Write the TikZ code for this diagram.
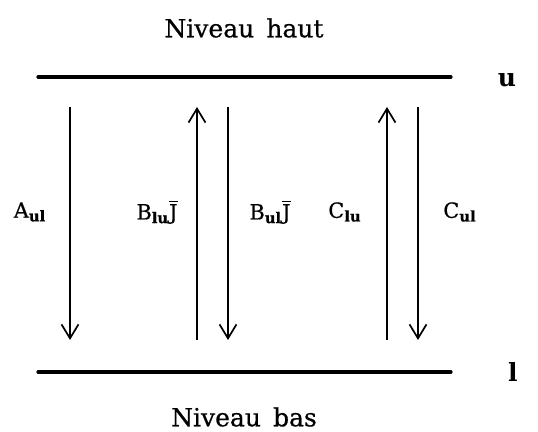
\documentclass[tikz,border=0pt]{standalone}
\usepackage{fontspec}
\setmainfont{DejaVu Serif}
\newfontfamily\heavyserif[FakeBold=0.6]{DejaVu Serif}
\usetikzlibrary{arrows.meta}
\begin{document}
\begin{tikzpicture}[x=0.5pt,y=-0.5pt,
    level/.style={line width=1.6pt, line cap=round},
    trans/.style={line width=0.85pt, -{Straight Barb[length=7pt,width=8.5pt]}},
    lbl/.style={font=\fontsize{10.5}{12}\selectfont\heavyserif},
    title/.style={font=\fontsize{12.5}{14}\selectfont\heavyserif}]
    \useasboundingbox (0,0) rectangle (538,432);

    % niveaux u et l
    \coordinate (uL) at (38,77);
    \coordinate (uR) at (451,77);
    \coordinate (lL) at (38,372);
    \coordinate (lR) at (451,372);
    \draw[level] (uL) -- (uR);
    \draw[level] (lL) -- (lR);
    \node[font=\fontsize{12.5}{14}\selectfont\bfseries] (u) at (507,80) {u};
    \node[font=\fontsize{12.5}{14}\selectfont\bfseries] (l) at (513,372) {l};
    \node[title] (haut) at (244,28) {Niveau\, haut};
    \node[title] (bas) at (244,417) {Niveau\, bas};

    % transitions
    \foreach \x in {70,228,418}
        \draw[trans] (\x,107) -- (\x,340);
    \foreach \x in {197,387}
        \draw[trans] (\x,340) -- (\x,107);

    \node[lbl] (Aul) at (30,212) {A\textsubscript{\bfseries ul}};
    \node[lbl] (Blu) at (157,212) {B\textsubscript{\bfseries lu}$\overline{\hbox{J}}$};
    \node[lbl] (Bul) at (270,212) {B\textsubscript{\bfseries ul}$\overline{\hbox{J}}$};
    \node[lbl] (Clu) at (345,212) {C\textsubscript{\bfseries lu}};
    \node[lbl] (Cul) at (460,212) {C\textsubscript{\bfseries ul}};
\end{tikzpicture}
\end{document}
